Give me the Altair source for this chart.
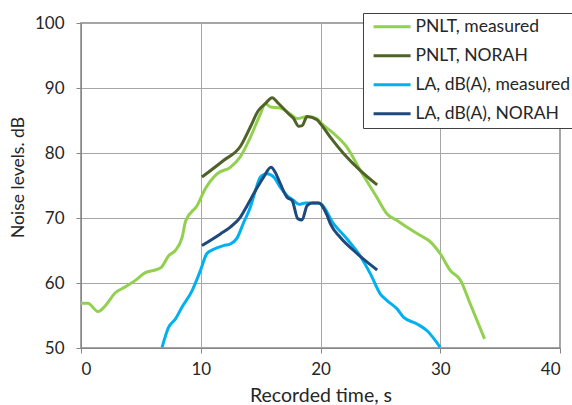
import altair as alt
import pandas as pd

# PNLT, measured
pm_t = [0.0, 0.58, 1.42, 2.03, 2.87, 3.7, 4.54, 5.37, 6.2, 6.7, 7.32, 7.88, 8.44, 8.75, 9.69, 10.38,
        11.36, 12.47, 13.3, 14.14, 14.98, 15.4, 15.8, 16.65, 17.48, 18.05, 18.88, 19.7, 20.0, 21.1,
        22.2, 23.33, 24.7, 25.56, 26.4, 27.2, 28.35, 29.2, 30.0, 30.85, 31.7, 32.5, 33.7]
pm_v = [56.9, 56.9, 55.6, 56.5, 58.5, 59.4, 60.4, 61.6, 62.0, 62.4, 64.2, 65.0, 67.0, 69.6, 71.9, 74.5,
        76.8, 77.8, 79.4, 82.4, 86.0, 87.6, 87.1, 86.9, 86.0, 85.3, 85.6, 85.3, 84.7, 83.0,
        80.9, 77.3, 73.2, 70.6, 69.6, 68.6, 67.3, 66.3, 64.5, 61.9, 60.4, 56.8, 51.4]

# PNLT, NORAH
pn_t = [10.1, 11.9, 13.3, 14.14, 14.8, 15.4, 15.96, 16.4, 16.8, 17.35, 17.76, 18.18, 18.46, 18.88,
        19.7, 20.0, 20.83, 21.94, 23.33, 24.73]
pn_v = [76.3, 78.85, 81.0, 84.0, 86.5, 87.6, 88.5, 87.8, 87.05, 86.0, 85.3, 84.1, 84.2, 85.6,
        85.1, 84.5, 82.4, 79.9, 77.3, 75.1]

# LA, dB(A), measured
lm_t = [6.77, 7.32, 7.88, 8.44, 9.27, 9.97, 10.5, 11.08, 11.9, 12.47, 13.03, 13.58, 14.14, 14.56,
        14.98, 15.54, 16.1, 16.65, 17.2, 17.76, 18.18, 18.74, 19.7, 20.0, 21.1, 22.2, 23.3, 24.17,
        25.0, 25.56, 26.4, 26.95, 28.07, 28.9, 30.0]
lm_v = [50.1, 53.2, 54.45, 56.3, 58.8, 61.9, 64.5, 65.2, 65.75, 66.0, 66.9, 69.3, 71.65, 74.2,
        76.3, 76.8, 76.3, 74.7, 73.45, 72.7, 72.1, 72.3, 72.3, 72.2, 69.1, 66.8, 64.2, 61.4,
        58.3, 57.3, 56.0, 54.7, 53.7, 52.65, 50.1]

# LA, dB(A), NORAH
ln_t = [10.1, 11.64, 12.47, 13.3, 13.87, 14.56, 15.25, 15.87, 16.23, 16.65, 17.2, 17.63, 18.1, 18.46,
        18.88, 19.3, 19.85, 20.55, 20.83, 21.66, 22.77, 23.9, 24.73]
ln_v = [65.75, 67.55, 68.6, 70.1, 71.9, 74.2, 76.3, 77.8, 77.0, 75.25, 73.2, 72.7, 69.9, 69.7,
        71.9, 72.3, 72.3, 70.4, 69.1, 67.0, 65.0, 63.2, 62.0]

series = ["PNLT, measured", "PNLT, NORAH", "LA, dB(A), measured", "LA, dB(A), NORAH"]
colors = ["#92D050", "#4F6228", "#00B0F0", "#1F497D"]

x_ticks = [0, 10, 20, 30, 40]
y_ticks = [50, 60, 70, 80, 90, 100]

frames = []
for i, (name, ts, vs) in enumerate(zip(series, [pm_t, pn_t, lm_t, ln_t], [pm_v, pn_v, lm_v, ln_v])):
    frames.append(pd.DataFrame({"t": ts, "v": vs, "series": name, "k": i}))
df = pd.concat(frames, ignore_index=True)

FONT = "Lato"

chart = alt.Chart(df).mark_line(strokeWidth=3, interpolate="monotone").encode(
    x=alt.X("t:Q", scale=alt.Scale(domain=[0, 40], nice=False),
            axis=alt.Axis(values=x_ticks, title="Recorded time, s", format="d",
                          labelPadding=8, titleY=53, titleBaseline="alphabetic",
                          titleFontSize=19.5)),
    y=alt.Y("v:Q", scale=alt.Scale(domain=[50, 100], nice=False, zero=False),
            axis=alt.Axis(values=y_ticks, title="Noise levels. dB", format="d",
                          labelPadding=12, titleX=-58, titleY=154, titleAlign="center",
                          titleBaseline="alphabetic", titleFontSize=17.5)),
    color=alt.Color("series:N", scale=alt.Scale(domain=series, range=colors),
                    legend=alt.Legend(title=None, orient="none", legendX=282, legendY=-10,
                                      symbolType="M-1,0H5", symbolSize=152, symbolStrokeWidth=3,
                                      symbolFillColor="transparent", symbolOffset=3,
                                      labelFontSize=17.5, labelFont=FONT, labelColor="#262626",
                                      labelOffset=27, rowPadding=10, padding=5,
                                      strokeColor="#404040", fillColor="white",
                                      labelLimit=300)),
    detail="k:N",
).properties(
    width=479, height=325,
    padding={"left": 81, "top": 23, "right": 12, "bottom": 57},
    autosize=alt.AutoSizeParams(type="none"),
    background="white",
).configure_axis(
    labelFont=FONT, titleFont=FONT, labelFontSize=17,
    labelColor="#262626", titleColor="#262626", titleFontWeight="normal",
    gridColor="#A6A6A6", gridWidth=1, domainColor="#868686", tickColor="#868686",
    tickSize=5, tickWidth=1,
).configure_view(
    stroke="#868686", strokeWidth=1.5
)

chart.save("out.html", embed_options={"renderer": "svg", "actions": False})
